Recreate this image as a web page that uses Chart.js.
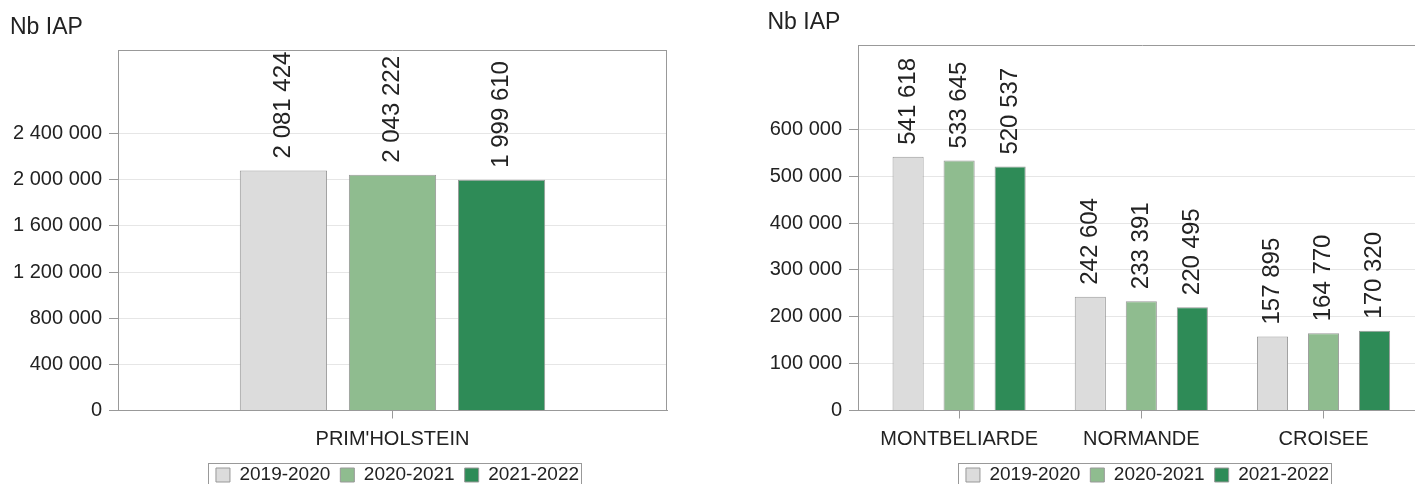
<!DOCTYPE html>
<html>
<head>
<meta charset="utf-8">
<script src="https://cdn.jsdelivr.net/npm/chart.js@4/dist/chart.umd.min.js"></script>
<style>
  html, body { margin: 0; padding: 0; background: #fff; overflow: hidden; width: 1415px; height: 484px; }
  canvas { position: absolute; top: 0; }
  #chartLeft { left: 0; }
  #chartRight { left: 740px; }
</style>
</head>
<body>
<canvas id="chartLeft" width="700" height="500"></canvas>
<canvas id="chartRight" width="700" height="500"></canvas>
<script>
// seasons shown in both charts
const seasons = ["2019-2020", "2020-2021", "2021-2022"];
const seasonColors = ["#dcdcdc", "#8fbc8f", "#2e8b57"];

// left chart : holstein
const leftBreeds = ["PRIM'HOLSTEIN"];
const leftValues2019 = [2081424];
const leftValues2020 = [2043222];
const leftValues2021 = [1999610];
const leftTicks = [0, 400000, 800000, 1200000, 1600000, 2000000, 2400000];

// right chart : other breeds
const rightBreeds = ["MONTBELIARDE", "NORMANDE", "CROISEE"];
const rightValues2019 = [541618, 242604, 157895];
const rightValues2020 = [533645, 233391, 164770];
const rightValues2021 = [520537, 220495, 170320];
const rightTicks = [0, 100000, 200000, 300000, 400000, 500000, 600000];

Chart.defaults.font.family = "'Liberation Sans', Arial, sans-serif";
Chart.defaults.color = "#222";

function fmt(v) {
    return String(v).replace(/\B(?=(\d{3})+(?!\d))/g, " ");
}

// top + right border of the plot
const frame = {
    id: "frame",
    afterDraw(chart, args, opts) {
        const a = chart.chartArea;
        const ctx = chart.ctx;
        const t = Math.round(a.top) + 0.5;
        const r = Math.round(a.right) - 0.5;
        ctx.save();
        ctx.strokeStyle = "#999";
        ctx.lineWidth = 1;
        ctx.beginPath();
        ctx.moveTo(a.left, t);
        ctx.lineTo(a.right, t);
        if (opts.right !== false) {
            ctx.moveTo(r, t);
            ctx.lineTo(r, a.bottom);
        }
        ctx.stroke();
        ctx.restore();
    },
};

// vertical value labels above the bars
const barValues = {
    id: "barValues",
    afterDatasetsDraw(chart) {
        const ctx = chart.ctx;
        ctx.save();
        ctx.font = "24px 'Liberation Sans', Arial, sans-serif";
        ctx.fillStyle = "#222";
        ctx.textAlign = "left";
        ctx.textBaseline = "middle";
        chart.data.datasets.forEach((ds, i) => {
            chart.getDatasetMeta(i).data.forEach((bar, j) => {
                let v = ds.data[j];
                if (typeof v === "object") v = v.y;
                ctx.save();
                ctx.translate(bar.x, bar.y - 12);
                ctx.rotate(-Math.PI / 2);
                ctx.fillText(fmt(v), 0, 0);
                ctx.restore();
            });
        });
        ctx.restore();
    },
};

// box around the legend (and nudge it so the items sit centred)
const legendBox = {
    id: "legendBox",
    afterLayout(chart) {
        chart.legend.left += 5;
        chart.legend.right += 5;
    },
    afterDraw(chart) {
        const hb = chart.legend.legendHitBoxes;
        if (!hb || !hb.length) return;
        const first = hb[0];
        const last = hb[hb.length - 1];
        const ctx = chart.ctx;
        const x0 = Math.round(first.left - 8) + 0.5;
        const x1 = Math.round(last.left + last.width + 2) + 0.5;
        const y0 = Math.round(first.top - 3) + 0.5;
        ctx.save();
        ctx.strokeStyle = "#999";
        ctx.lineWidth = 1;
        ctx.strokeRect(x0, y0, x1 - x0, chart.height - y0 + 10);
        ctx.restore();
    },
};

function commonOptions(padLeft, padRight, titleTop, titleBottom) {
    return {
        responsive: false,
        animation: false,
        layout: { padding: { left: padLeft, right: padRight, top: 0, bottom: 5.5 } },
        plugins: {
            tooltip: { enabled: false },
            title: {
                display: true,
                text: "Nb IAP",
                align: "start",
                color: "#222",
                font: { size: 23, weight: "normal" },
                padding: { top: titleTop, bottom: titleBottom },
            },
            legend: {
                position: "bottom",
                fullSize: false,
                labels: {
                    boxWidth: 14,
                    boxHeight: 14,
                    padding: 10,
                    color: "#222",
                    font: { size: 19 },
                },
            },
        },
    };
}

function yAxis(max, tickValues, width) {
    return {
        min: 0,
        max: max,
        afterBuildTicks: (s) => {
            s.ticks = tickValues.map((v) => ({ value: v }));
        },
        afterFit: (s) => {
            s.width = width;
        },
        ticks: { callback: (v) => fmt(v), font: { size: 20 }, color: "#222", padding: 7 },
        grid: {
            color: (c) => (c.tick && c.tick.value === 0 ? "#999" : "#e6e6e6"),
            tickColor: "#999",
            tickLength: 9,
        },
        border: { color: "#999" },
    };
}

const xGrid = { offset: false, drawOnChartArea: false, drawTicks: true, tickLength: 8, color: "#999", tickColor: "#999" };

// left chart
const leftSeries = [leftValues2019, leftValues2020, leftValues2021];
const leftOptions = commonOptions(10, 33, 14, 8.4);
leftOptions.scales = {
    x: {
        type: "category",
        offset: true,
        grid: xGrid,
        border: { color: "#999" },
        ticks: { font: { size: 20 }, color: "#222", padding: 9 },
        afterFit: (s) => {
            s.height = 45;
        },
    },
    y: yAxis(3125000, leftTicks, 108),
};

new Chart(document.getElementById("chartLeft"), {
    type: "bar",
    data: {
        labels: leftBreeds,
        datasets: leftSeries.map((vals, i) => ({
            label: seasons[i],
            data: vals,
            backgroundColor: seasonColors[i],
            borderColor: "#999",
            borderWidth: 1,
            categoryPercentage: 0.596,
            barPercentage: 0.8,
        })),
    },
    options: leftOptions,
    plugins: [frame, barValues, legendBox],
});

// right chart (linear x so the first group sits a bit off the axis)
const rightSeries = [rightValues2019, rightValues2020, rightValues2021];
const rightOptions = commonOptions(27.5, 13, 9, 8.4);
rightOptions.plugins.frame = { right: false };
rightOptions.scales = {
    x: {
        type: "linear",
        offset: false,
        bounds: "data",
        min: -0.555,
        max: 2.568,
        afterBuildTicks: (s) => {
            s.ticks = rightBreeds.map((b, i) => ({ value: i }));
        },
        grid: xGrid,
        border: { color: "#999" },
        ticks: {
            callback: (v) => rightBreeds[v],
            autoSkip: false,
            maxRotation: 0,
            font: { size: 20 },
            color: "#222",
            padding: 9,
        },
        afterFit: (s) => {
            s.height = 45;
        },
    },
    y: yAxis(780000, rightTicks, 90.5),
};

new Chart(document.getElementById("chartRight"), {
    type: "bar",
    data: {
        datasets: rightSeries.map((vals, i) => ({
            label: seasons[i],
            data: vals.map((v, j) => ({ x: j, y: v })),
            backgroundColor: seasonColors[i],
            borderColor: "#999",
            borderWidth: 1,
            categoryPercentage: 0.84,
            barPercentage: 0.61,
        })),
    },
    options: rightOptions,
    plugins: [frame, barValues, legendBox],
});
</script>
</body>
</html>
